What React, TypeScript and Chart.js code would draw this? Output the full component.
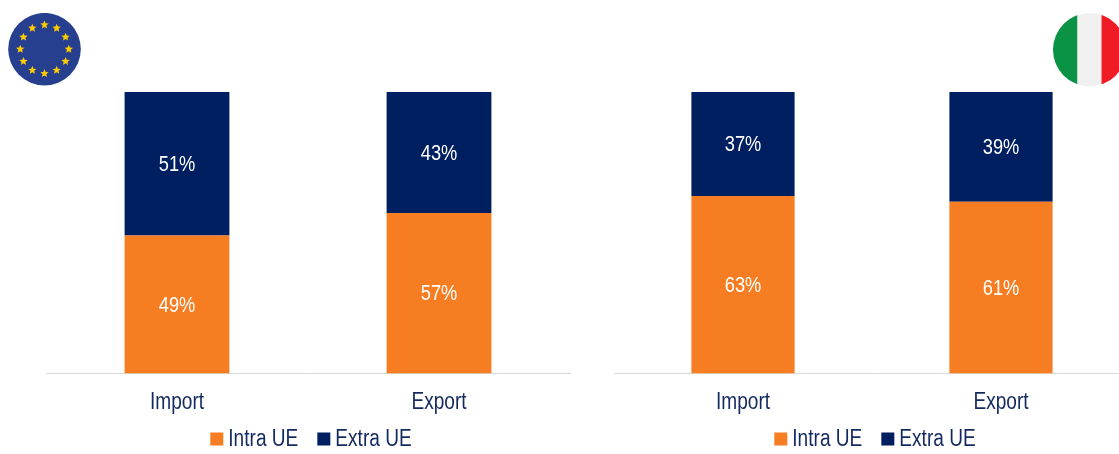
import React, { useEffect, useRef } from "react";
import { Chart, registerables } from "chart.js";

Chart.register(...registerables);

const categories = ["Import", "Export"];
const euIntra = [49, 57];
const euExtra = [51, 43];
const itIntra = [63, 61];
const itExtra = [37, 39];
const seriesNames = ["Intra UE", "Extra UE"];
const ORANGE = "#F67D21";
const NAVY = "#001F60";
const TEXT = "#14295F";
const FONT = "'Liberation Sans', Arial, sans-serif";
const NARROW = 0.83;

// The typeface only ships in normal width, so glyphs are squeezed horizontally on this canvas.
function condenseText(ctx: any) {
  const fill = ctx.fillText.bind(ctx);
  ctx.fillText = (text: string, x: number, y: number) => {
    ctx.save();
    ctx.translate(x, y);
    ctx.scale(NARROW, 1);
    fill(text, 0, 0);
    ctx.restore();
  };
}

// Writes each segment's value in the middle of its bar.
const valueLabels = {
  id: "valueLabels",
  afterDatasetsDraw(chart: any) {
    const { ctx } = chart;
    chart.data.datasets.forEach((ds: any, i: number) => {
      chart.getDatasetMeta(i).data.forEach((bar: any, j: number) => {
        const p = bar.getProps(["x", "y", "base"], true);
        ctx.save();
        ctx.fillStyle = "#FFFFFF";
        ctx.font = `22px ${FONT}`;
        ctx.textAlign = "center";
        ctx.textBaseline = "middle";
        ctx.fillText(`${ds.data[j]}%`, p.x, (p.y + p.base) / 2 + 1);
        ctx.restore();
      });
    });
  },
};

// Compact legend row: small square, tight gap, then the series name.
const legendRow = {
  id: "legendRow",
  afterDraw(chart: any, _args: any, opts: any) {
    const { ctx } = chart;
    ctx.save();
    ctx.font = `23px ${FONT}`;
    ctx.textBaseline = "middle";
    ctx.textAlign = "left";
    const box = 13;
    const gapText = 5;
    const gapItem = 19;
    const widths = chart.data.datasets.map(
      (ds: any) => ctx.measureText(ds.label).width * NARROW
    );
    const total =
      widths.reduce((a: number, b: number) => a + b + box + gapText, 0) +
      gapItem * (widths.length - 1);
    let x = opts.centerX - total / 2;
    chart.data.datasets.forEach((ds: any, i: number) => {
      ctx.fillStyle = ds.backgroundColor;
      ctx.fillRect(x, opts.y - box / 2, box, box);
      ctx.fillStyle = TEXT;
      ctx.fillText(ds.label, x + box + gapText, opts.y + 1);
      x += box + gapText + widths[i] + gapItem;
    });
    ctx.restore();
  },
};

function Panel({ left, width, padLeft, padRight, legendX, intra, extra }: any) {
  const ref = useRef<HTMLCanvasElement>(null);
  useEffect(() => {
    condenseText(ref.current!.getContext("2d"));
    const chart = new Chart(ref.current!, {
      type: "bar",
      data: {
        labels: categories,
        datasets: [
          { label: seriesNames[0], data: intra, backgroundColor: ORANGE },
          { label: seriesNames[1], data: extra, backgroundColor: NAVY },
        ],
      },
      options: {
        animation: false,
        responsive: false,
        layout: { padding: { top: 92, left: padLeft, right: padRight, bottom: 23 } },
        datasets: { bar: { categoryPercentage: 1, barPercentage: 0.4 } },
        scales: {
          x: {
            stacked: true,
            grid: { display: false, drawTicks: false },
            border: { color: "#D9D9D9", width: 1 },
            ticks: { color: TEXT, font: { family: FONT, size: 23 }, padding: 15, maxRotation: 0 },
          },
          y: { stacked: true, display: false, min: 0, max: 100 },
        },
        plugins: {
          tooltip: { enabled: false },
          legend: { display: false },
          legendRow: { centerX: legendX, y: 439 },
        },
      },
      plugins: [valueLabels, legendRow],
    } as any);
    return () => chart.destroy();
  }, []);
  return (
    <canvas
      ref={ref}
      width={width}
      height={454}
      style={{ position: "absolute", left, top: 0, width, height: 454, display: "block" }}
    />
  );
}

const starAngles = [0, 30, 60, 90, 120, 150, 180, 210, 240, 270, 300, 330];

function starPath(cx: number, cy: number, r: number) {
  const pts: string[] = [];
  for (let k = 0; k < 10; k++) {
    const rad = k % 2 === 0 ? r : r * 0.45;
    const a = (-90 + k * 36) * (Math.PI / 180);
    pts.push(`${(cx + rad * Math.cos(a)).toFixed(2)},${(cy + rad * Math.sin(a)).toFixed(2)}`);
  }
  return pts.join(" ");
}

function EuBadge() {
  return (
    <svg width={74} height={74} style={{ position: "absolute", left: 8, top: 12.5 }}>
      <circle cx={36.5} cy={36.2} r={36.3} fill="#273F8F" />
      {starAngles.map((deg) => {
        const a = (deg * Math.PI) / 180;
        return (
          <polygon
            key={deg}
            points={starPath(36.5 + 24.3 * Math.cos(a), 36.2 + 24.3 * Math.sin(a), 4.4)}
            fill="#FFCC00"
          />
        );
      })}
    </svg>
  );
}

function ItalyBadge() {
  return (
    <svg width={74} height={74} style={{ position: "absolute", left: 1052.7, top: 12.7 }}>
      <defs>
        <clipPath id="roundel">
          <circle cx={36.7} cy={36.7} r={36.7} />
        </clipPath>
      </defs>
      <g clipPath="url(#roundel)">
        <rect x={0} y={0} width={24.5} height={74} fill="#0A9345" />
        <rect x={24.5} y={0} width={24} height={74} fill="#F0F0F0" />
        <rect x={48.5} y={0} width={26} height={74} fill="#EF1C25" />
      </g>
    </svg>
  );
}

export default function App() {
  return (
    <div style={{ position: "fixed", inset: 0, overflow: "hidden", background: "#fff" }}>
      <Panel left={0} width={580} padLeft={46} padRight={10} legendX={311} intra={euIntra} extra={euExtra} />
      <Panel left={600} width={530} padLeft={14} padRight={0} legendX={275} intra={itIntra} extra={itExtra} />
      <EuBadge />
      <ItalyBadge />
    </div>
  );
}
